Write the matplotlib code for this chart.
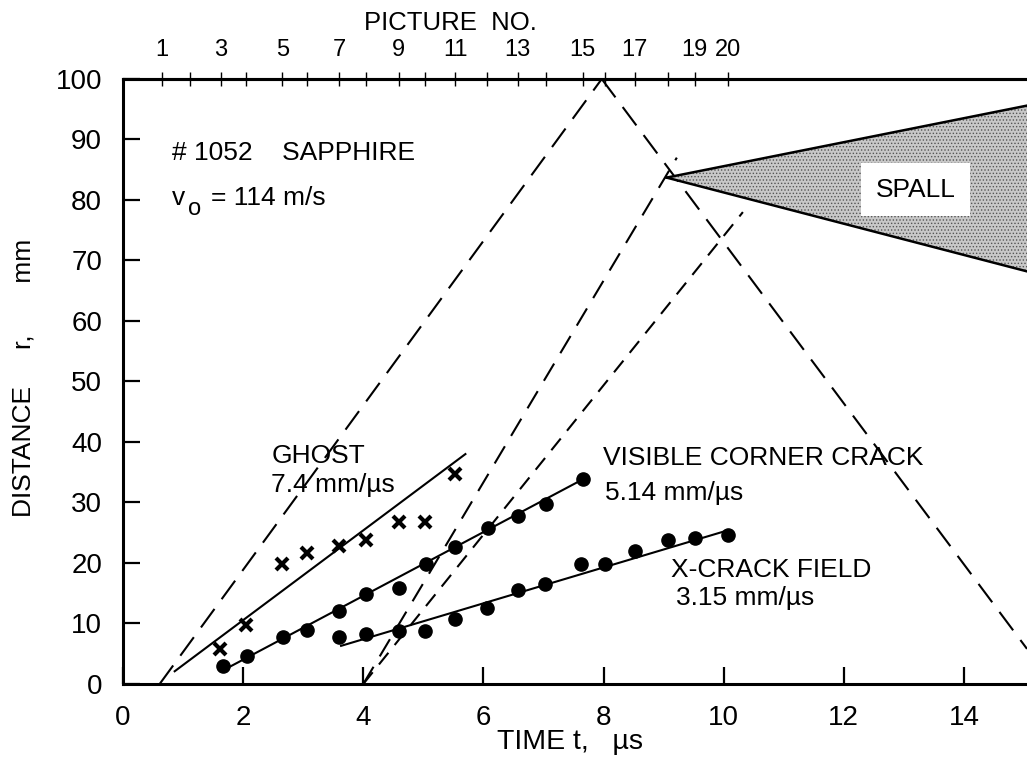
import matplotlib
matplotlib.use('Agg')
import matplotlib.pyplot as plt
from matplotlib.patches import Polygon


plt.rcParams['font.family'] = ['Liberation Sans', 'DejaVu Sans']
plt.rcParams['hatch.linewidth'] = 0.6

# Top axis: picture numbers at their frame times (us)
PICTURE_NUMBERS = list(range(1, 21))
PICTURE_TIMES = [0.65, 1.11, 1.63, 2.05, 2.65, 3.07, 3.60, 4.04, 4.59, 5.02,
                 5.53, 6.06, 6.57, 7.04, 7.65, 8.02, 8.52, 9.07, 9.52, 10.07]
PICTURE_LABELS = ['1', '', '3', '', '5', '', '7', '', '9', '', '11', '', '13', '',
                  '15', '', '17', '', '19', '20']

# Ghost (crosses) and its fitted line
GHOST_T = [1.61, 2.04, 2.65, 3.07, 3.60, 4.04, 4.59, 5.02, 5.53]
GHOST_R = [5.7, 9.8, 19.8, 21.7, 22.8, 23.8, 26.7, 26.7, 34.7]
GHOST_FIT_T = [0.86, 5.70]
GHOST_FIT_R = [2.1, 38.0]

# Visible corner crack (dots) and its fitted line
CORNER_T = [1.66, 2.06, 2.67, 3.07, 3.60, 4.04, 4.59, 5.04, 5.53, 6.08, 6.58, 7.04, 7.65]
CORNER_R = [2.9, 4.7, 7.8, 9.0, 12.0, 14.8, 15.9, 19.8, 22.7, 25.7, 27.7, 29.8, 33.8]
CORNER_FIT_T = [1.75, 7.65]
CORNER_FIT_R = [2.7, 33.8]

# X-crack field (dots) and its fitted line
XCRACK_T = [3.60, 4.04, 4.59, 5.02, 5.53, 6.06, 6.57, 7.03, 7.63, 8.02, 8.52, 9.07, 9.52, 10.07]
XCRACK_R = [7.7, 8.3, 8.8, 8.8, 10.7, 12.6, 15.6, 16.6, 19.8, 19.8, 21.9, 23.8, 24.2, 24.7]
XCRACK_FIT_T = [3.63, 10.07]
XCRACK_FIT_R = [6.3, 25.4]

# Wave paths (dashed)
WAVE_OUT_T = [0.61, 7.97]
WAVE_OUT_R = [0.0, 100.0]
WAVE_BACK_T = [7.97, 15.05]
WAVE_BACK_R = [100.0, 5.8]
FRONT_A_T = [4.0, 9.22]
FRONT_A_R = [0.0, 87.0]
FRONT_B_T = [4.0, 10.32]
FRONT_B_R = [0.0, 78.0]

# Spall wedge
SPALL_T = [9.05, 15.05, 15.05]
SPALL_R = [83.7, 95.6, 68.2]

X_TICKS = [0, 2, 4, 6, 8, 10, 12, 14]
Y_TICKS = [0, 10, 20, 30, 40, 50, 60, 70, 80, 90, 100]

fig = plt.figure(figsize=(10.27, 7.79), dpi=100)
ax = fig.add_axes([0.1198, 0.1220, 0.8802, 0.7766])
ax.set_xlim(0, 15.05)
ax.set_ylim(0, 100)

# dashed wave lines
ax.plot(WAVE_OUT_T, WAVE_OUT_R, color='black', lw=1.5, dashes=(11, 5.8))
ax.plot(WAVE_BACK_T, WAVE_BACK_R, color='black', lw=1.5, dashes=(11, 5.8))
ax.plot(FRONT_A_T, FRONT_A_R, color='black', lw=1.5, dashes=(9.6, 5.8))
ax.plot(FRONT_B_T, FRONT_B_R, color='black', lw=1.5, dashes=(7.2, 4.8))

# spall wedge
spall = Polygon(list(zip(SPALL_T, SPALL_R)), closed=True, facecolor='#c8c8c8',
                edgecolor='#555555', hatch='.....', lw=0, zorder=2)
ax.add_patch(spall)
ax.plot([SPALL_T[0], SPALL_T[1]], [SPALL_R[0], SPALL_R[1]], color='black', lw=1.8, zorder=3)
ax.plot([SPALL_T[0], SPALL_T[2]], [SPALL_R[0], SPALL_R[2]], color='black', lw=1.8, zorder=3)

# fitted lines and data
ax.plot(GHOST_FIT_T, GHOST_FIT_R, color='black', lw=1.5)
ax.plot(CORNER_FIT_T, CORNER_FIT_R, color='black', lw=1.5)
ax.plot(XCRACK_FIT_T, XCRACK_FIT_R, color='black', lw=1.5)
ax.plot(GHOST_T, GHOST_R, ls='none', marker='x', ms=8, mew=3, color='black', zorder=4)
ax.plot(CORNER_T, CORNER_R, ls='none', marker='o', ms=9.5, color='black', zorder=4)
ax.plot(XCRACK_T, XCRACK_R, ls='none', marker='o', ms=9.5, color='black', zorder=4)

# annotations
fs = 19
ax.text(0.81, 86.6, '# 1052    SAPPHIRE', fontsize=fs, va='baseline')
ax.text(0.81, 79.2, 'v', fontsize=fs, va='baseline')
ax.text(1.08, 77.6, 'o', fontsize=17, va='baseline')
ax.text(1.47, 79.2, '= 114 m/s', fontsize=fs, va='baseline')
ax.text(2.47, 36.5, 'GHOST', fontsize=fs, va='baseline')
ax.text(2.47, 31.8, '7.4 mm/\u00b5s', fontsize=fs, va='baseline')
ax.text(7.99, 36.2, 'VISIBLE CORNER CRACK', fontsize=fs, va='baseline')
ax.text(8.02, 30.4, '5.14 mm/\u00b5s', fontsize=fs, va='baseline')
ax.text(9.13, 17.7, 'X-CRACK FIELD', fontsize=fs, va='baseline')
ax.text(9.20, 13.1, '3.15 mm/\u00b5s', fontsize=fs, va='baseline')
ax.text(13.2, 81.7, 'SPALL', fontsize=fs, ha='center', va='center', zorder=5,
        bbox=dict(boxstyle='square,pad=0.55', facecolor='white', edgecolor='none'))

# axes styling
ax.set_xticks(X_TICKS)
ax.set_yticks(Y_TICKS)
ax.tick_params(direction='in', length=12, width=1.6, labelsize=20, pad=15,
               top=False, right=False)
for side in ['left', 'bottom', 'top']:
    ax.spines[side].set_linewidth(2.2)
ax.spines['right'].set_visible(False)

top = ax.twiny()
top.set_xlim(ax.get_xlim())
top.set_xticks(PICTURE_TIMES)
top.set_xticklabels(PICTURE_LABELS)
top.tick_params(direction='inout', length=10, width=1, labelsize=17, pad=8)
for side in ['left', 'bottom', 'right']:
    top.spines[side].set_visible(False)
top.spines['top'].set_linewidth(2.2)

fig.text(450 / 1027, 1 - 23 / 779, 'PICTURE  NO.', fontsize=18.5, ha='center', va='center')
fig.text(570 / 1027, 1 - 742 / 779, 'TIME t,   \u00b5s', fontsize=20.5, ha='center', va='center')
fig.text(24 / 1027, 0.515, 'DISTANCE     r,       mm', fontsize=fs, ha='center', va='center',
         rotation=90)

fig.savefig('out.png', dpi=100)
